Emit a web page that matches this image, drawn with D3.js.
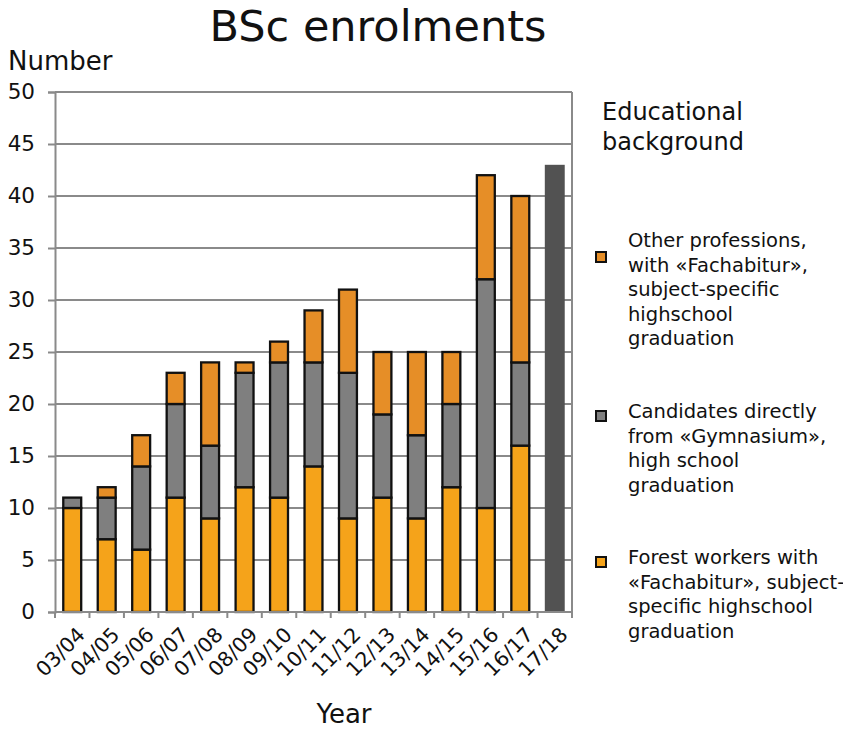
<!DOCTYPE html>
<html>
<head>
<meta charset="utf-8">
<script src="https://cdn.jsdelivr.net/npm/d3@7"></script>
<style>
  body { margin: 0; background: #fff; }
  text { font-family: "DejaVu Sans", Verdana, sans-serif; fill: #111; }
</style>
</head>
<body>
<div id="chart"></div>
<script>
// Dados do gráfico
const years = ["03/04","04/05","05/06","06/07","07/08","08/09","09/10","10/11",
               "11/12","12/13","13/14","14/15","15/16","16/17","17/18"];
const forestWorkers = [10, 7, 6, 11, 9, 12, 11, 14, 9, 11, 9, 12, 10, 16, 0];
const gymnasium     = [1, 4, 8, 9, 7, 11, 13, 10, 14, 8, 8, 8, 22, 8, 0];
const otherProf     = [0, 1, 3, 3, 8, 1, 2, 5, 8, 6, 8, 5, 10, 16, 0];
const totalOnly     = [0, 0, 0, 0, 0, 0, 0, 0, 0, 0, 0, 0, 0, 0, 43];
const yTicks = [0, 5, 10, 15, 20, 25, 30, 35, 40, 45, 50];

const seriesKeys = ["forest", "gym", "other"];
const colors = {forest: "#f5a31a", gym: "#7f7f7f", other: "#e68e27"};
const legendItems = [
  {key: "other", lines: ["Other professions,", "with «Fachabitur»,", "subject-specific", "highschool", "graduation"]},
  {key: "gym", lines: ["Candidates directly", "from «Gymnasium»,", "high school", "graduation"]},
  {key: "forest", lines: ["Forest workers with", "«Fachabitur», subject-", "specific highschool", "graduation"]}
];

const W = 843, H = 729;
const margin = {top: 92, right: 271, bottom: 117, left: 55},
    width = W - margin.left - margin.right,
    height = H - margin.top - margin.bottom;

const svg = d3.select("#chart").append("svg")
  .attr("width", W).attr("height", H);

const g = svg.append("g")
  .attr("transform", `translate(${margin.left},${margin.top})`);

const x = d3.scaleBand().domain(years).range([0, width]).paddingInner(0.48).paddingOuter(0.24);
const y = d3.scaleLinear().domain([0, 50]).range([height, 0]);

// grade
g.selectAll(".grid").data(yTicks.slice(1)).join("line")
  .attr("x1", 0).attr("x2", width)
  .attr("y1", d => y(d)).attr("y2", d => y(d))
  .attr("stroke", "#8a8a8a").attr("stroke-width", 2);

// linha da direita
g.append("line").attr("x1", width).attr("x2", width).attr("y1", 0).attr("y2", height)
  .attr("stroke", "#8a8a8a").attr("stroke-width", 2);

// eixo y
const yAxis = g.append("g")
  .call(d3.axisLeft(y).tickValues(yTicks).tickSize(7).tickPadding(13));
yAxis.select(".domain").attr("stroke", "#8a8a8a").attr("stroke-width", 2);
yAxis.selectAll(".tick line").attr("stroke", "#8a8a8a").attr("stroke-width", 2);
yAxis.selectAll("text").style("font-size", "21.5px").attr("fill", "#111")
  .attr("font-family", "DejaVu Sans");

// dados empilhados
const rows = years.map((yr, i) => ({year: yr, forest: forestWorkers[i], gym: gymnasium[i], other: otherProf[i]}));
const stack = d3.stack().keys(seriesKeys)(rows);

g.selectAll(".layer").data(stack).join("g")
  .attr("fill", d => colors[d.key])
  .selectAll("rect").data(d => d.filter(p => p[1] - p[0] > 0)).join("rect")
    .attr("x", d => x(d.data.year))
    .attr("width", x.bandwidth())
    .attr("y", d => y(d[1]))
    .attr("height", d => y(d[0]) - y(d[1]))
    .attr("stroke", "#111").attr("stroke-width", 2.3);

// barra do total (17/18)
g.selectAll(".total").data(years.map((yr, i) => ({year: yr, v: totalOnly[i]})).filter(d => d.v > 0))
  .join("rect")
  .attr("x", d => x(d.year) - 1)
  .attr("width", x.bandwidth() + 2)
  .attr("y", d => y(d.v))
  .attr("height", d => height - y(d.v))
  .attr("fill", "#525252");

// eixo x
const xBottom = g.append("g").attr("transform", `translate(0,${height})`);
xBottom.append("line").attr("x1", 0).attr("x2", width).attr("y1", 0).attr("y2", 0)
  .attr("stroke", "#8a8a8a").attr("stroke-width", 2);
xBottom.selectAll(".xt").data(d3.range(years.length + 1)).join("line")
  .attr("x1", i => i * width / years.length).attr("x2", i => i * width / years.length)
  .attr("y1", 0).attr("y2", 6)
  .attr("stroke", "#8a8a8a").attr("stroke-width", 2);
xBottom.selectAll(".xl").data(years).join("text")
  .attr("transform", d => `translate(${x(d) + x.bandwidth() / 2 + 9},${19}) rotate(-45)`)
  .attr("text-anchor", "end")
  .attr("dy", "0.35em")
  .style("font-size", "20.5px")
  .text(d => d);

// títulos
svg.append("text").attr("x", 378).attr("y", 41).attr("text-anchor", "middle")
  .style("font-size", "43px").text("BSc enrolments");
svg.append("text").attr("x", 8).attr("y", 70).style("font-size", "26px").text("Number");
svg.append("text").attr("x", 344).attr("y", 723).attr("text-anchor", "middle")
  .style("font-size", "26px").text("Year");

// legenda
svg.append("text").attr("x", 602).attr("y", 120).style("font-size", "24px").text("Educational");
svg.append("text").attr("x", 602).attr("y", 150).style("font-size", "24px").text("background");

const legY = [247, 418, 564];
const leg = svg.selectAll(".leg").data(legendItems).join("g")
  .attr("transform", (d, i) => `translate(0,${legY[i]})`);
leg.append("rect")
  .attr("x", 596).attr("y", (d) => (d.lines.length === 5 ? 12 : 0) - 5 - 2)
  .attr("width", 10).attr("height", 10)
  .attr("fill", d => colors[d.key]).attr("stroke", "#111").attr("stroke-width", 2);
leg.selectAll("text").data(d => d.lines).join("text")
  .attr("x", 628).attr("y", (d, i) => i * 24.5)
  .style("font-size", "19.5px")
  .text(d => d);
</script>
</body>
</html>
